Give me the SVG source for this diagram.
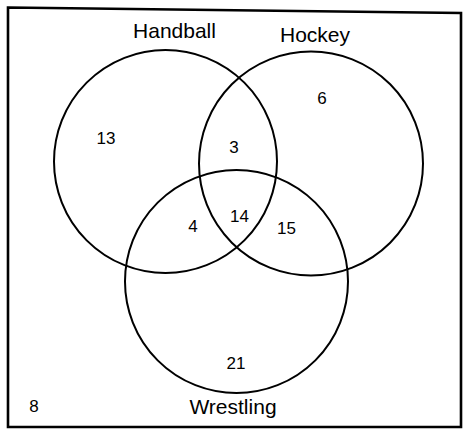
<svg xmlns="http://www.w3.org/2000/svg" width="463" height="431" viewBox="0 0 463 431">
<style>
.c{fill:none;stroke:#000;stroke-width:2}
.t{font-family:"Liberation Sans",Arial,sans-serif;fill:#000;text-anchor:middle}
.lab{font-size:21px}
.num{font-size:17px}
</style>
<rect width="463" height="431" fill="#fff"/>
<g id="frame"><path d="M8,7.5 L461,13 L461,427 L8,427 Z" fill="none" stroke="#000" stroke-width="2.6"/></g>
<g id="connectors"></g>
<g id="handball"><circle class="c" cx="165.5" cy="161.5" r="111.5"/><text class="t lab" x="174.5" y="38">Handball</text></g>
<g id="hockey"><circle class="c" cx="311" cy="163.5" r="112"/><text class="t lab" x="315" y="42">Hockey</text></g>
<g id="wrestling"><circle class="c" cx="236.5" cy="281.5" r="111.5"/><text class="t lab" x="233" y="414">Wrestling</text></g>
<g id="numbers">
<text class="t num" x="106" y="144">13</text>
<text class="t num" x="322" y="104">6</text>
<text class="t num" x="234" y="153">3</text>
<text class="t num" x="193" y="232">4</text>
<text class="t num" x="239.5" y="222">14</text>
<text class="t num" x="286.5" y="234">15</text>
<text class="t num" x="236" y="369">21</text>
<text class="t num" x="34" y="412">8</text>
</g>
</svg>
